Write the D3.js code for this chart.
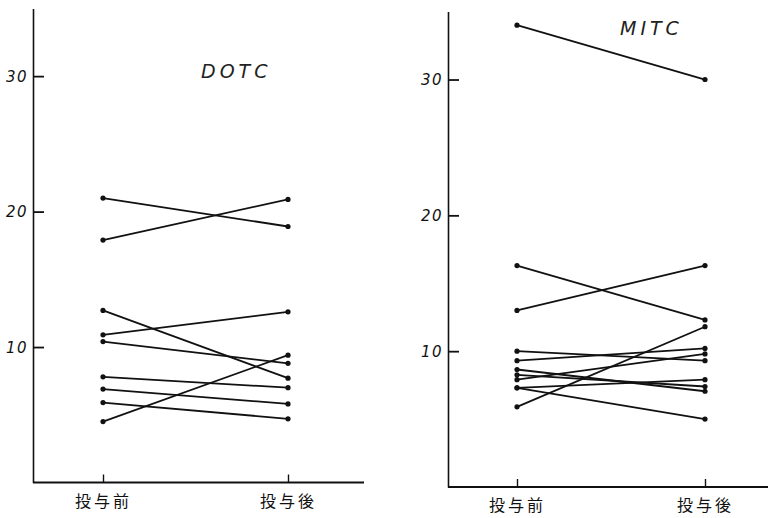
<!DOCTYPE html>
<html><head><meta charset="utf-8">
<script src="https://cdn.jsdelivr.net/npm/d3@7"></script>
<style>
html,body{margin:0;padding:0;background:#fff;}
svg{display:block;}
.ylab text{font-family:"DejaVu Sans",sans-serif;font-style:italic;font-size:15px;letter-spacing:1.5px;}
.xlab text{font-family:"Noto Sans CJK JP",sans-serif;font-size:16px;letter-spacing:3px;}
.title{font-family:"DejaVu Sans",sans-serif;font-style:italic;font-size:19px;letter-spacing:4px;font-weight:300;}
</style>
</head><body>
<svg id="chart" width="768" height="518"></svg>
<script>
// ---- data ----
const categories = ["投与前", "投与後"];
const yTicks = [10, 20, 30];
const dotcTitle = "DOTC";
const dotcBefore = [21.0, 17.9, 12.7, 10.9, 10.4, 7.8, 6.9, 5.9, 4.5];
const dotcAfter  = [18.9, 20.9, 7.7, 12.6, 8.8, 7.0, 5.8, 4.7, 9.4];
const mitcTitle = "MITC";
const mitcBefore = [34.0, 16.3, 13.0, 10.0, 9.3, 7.9, 8.65, 8.26, 7.3, 7.3, 5.9];
const mitcAfter  = [30.0, 12.3, 16.3, 9.3, 10.2, 9.8, 7.05, 7.4, 7.9, 5.0, 11.8];

const svg = d3.select("#chart");

function panel(cfg){
  const g = svg.append("g").attr("transform", `translate(${cfg.left},0)`);
  const y = d3.scaleLinear().domain([0, 35]).range([cfg.y0, cfg.y35]);
  const x = d3.scalePoint().domain(categories).range(cfg.xRange);

  // y axis
  const ya = g.append("g").attr("class","ylab")
    .call(d3.axisLeft(y).tickValues(yTicks).tickSize(-11).tickSizeOuter(0).tickPadding(5).tickFormat(d3.format("d")));
  ya.select(".domain").attr("stroke","#111").attr("stroke-width",1.6);
  ya.selectAll(".tick line").attr("stroke","#111").attr("stroke-width",1.8);
  ya.selectAll(".tick text").attr("fill","#111").attr("dy","0.35em");

  // x axis
  const xa = g.append("g").attr("class","xlab")
    .attr("transform", `translate(0,${y(0)})`)
    .call(d3.axisBottom(x).tickSize(-8).tickPadding(13));
  xa.select(".domain").remove();
  xa.append("line").attr("x1",0).attr("x2",cfg.xEnd).attr("y1",0).attr("y2",0)
    .attr("stroke","#111").attr("stroke-width",2);
  xa.selectAll(".tick line").attr("stroke","#111").attr("stroke-width",1.4);
  xa.selectAll(".tick text").attr("fill","#111");

  // title
  g.append("text").attr("class","title").attr("x",cfg.titleX).attr("y",cfg.titleY)
    .attr("fill","#222").text(cfg.title);

  // lines
  const pairs = cfg.before.map((b,i)=>[b, cfg.after[i]]);
  g.selectAll("line.pair").data(pairs).enter().append("line")
    .attr("x1", x(categories[0])).attr("x2", x(categories[1]))
    .attr("y1", d=>y(d[0])).attr("y2", d=>y(d[1]))
    .attr("stroke","#111").attr("stroke-width",1.8);
  const pts = [];
  pairs.forEach(p=>{ pts.push([categories[0],p[0]]); pts.push([categories[1],p[1]]); });
  g.selectAll("circle.pt").data(pts).enter().append("circle")
    .attr("cx", d=>x(d[0])).attr("cy", d=>y(d[1])).attr("r",2.6).attr("fill","#111");
}

panel({left:33, y0:482.5, y35:8.4, xRange:[70,255], xEnd:331, title:dotcTitle, titleX:168, titleY:78,
       before:dotcBefore, after:dotcAfter});
panel({left:448, y0:487, y35:11.6, xRange:[69,257], xEnd:320, title:mitcTitle, titleX:172, titleY:35,
       before:mitcBefore, after:mitcAfter});
</script>
</body></html>
